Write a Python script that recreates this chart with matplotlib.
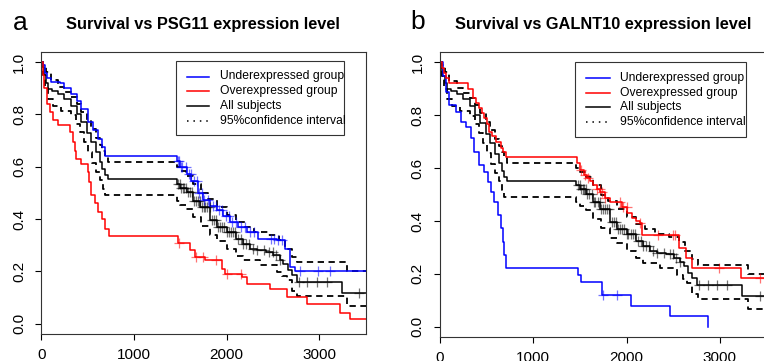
import numpy as np
import matplotlib
matplotlib.use("Agg")
import matplotlib.pyplot as plt
from matplotlib.lines import Line2D
from matplotlib.patches import Rectangle

plt.rcParams['font.family'] = ['Liberation Sans', 'DejaVu Sans']

# ---------------- data ----------------
# All subjects (shared by both panels)
all_t = [0, 10, 25, 50, 72, 120, 180, 250, 324, 380, 432, 490, 540, 590, 630, 660, 684, 720,
         1461, 1500, 1568, 1640, 1712, 1820, 1900, 2000, 2100, 2180, 2250, 2323, 2420, 2503,
         2570, 2611, 2660, 2701, 2755, 3240, 3600]
all_s = [1.0, 0.98, 0.95, 0.92, 0.898, 0.89, 0.879, 0.86, 0.834, 0.80, 0.77, 0.73, 0.694, 0.655,
         0.618, 0.59, 0.567, 0.552,
         0.535, 0.52, 0.503, 0.47, 0.446, 0.395, 0.37, 0.35, 0.325, 0.306, 0.285, 0.28, 0.275,
         0.261, 0.245, 0.229, 0.205, 0.185, 0.159, 0.115, 0.115]
ci_up_t = [0, 20, 54, 100, 180, 250, 324, 380, 432, 490, 540, 590, 630, 660, 684, 720,
           1461, 1500, 1560, 1640, 1720, 1800, 1900, 2000, 2100, 2200, 2300, 2450, 2560, 2630,
           2700, 2760, 3300, 3600]
ci_up_s = [1.0, 0.99, 0.962, 0.93, 0.904, 0.885, 0.866, 0.84, 0.809, 0.775, 0.745, 0.71, 0.682,
           0.66, 0.637, 0.618,
           0.60, 0.585, 0.565, 0.535, 0.50, 0.475, 0.445, 0.415, 0.39, 0.37, 0.35, 0.34, 0.32,
           0.285, 0.255, 0.235, 0.20, 0.20]
ci_lo_t = [0, 20, 40, 72, 126, 216, 324, 370, 414, 460, 504, 550, 594, 630, 666, 690,
           1461, 1500, 1560, 1640, 1720, 1820, 1900, 2000, 2100, 2180, 2359, 2539, 2600, 2647,
           2700, 2760, 3300, 3600]
ci_lo_s = [1.0, 0.95, 0.90, 0.86, 0.834, 0.815, 0.796, 0.765, 0.732, 0.695, 0.656, 0.615, 0.58,
           0.55, 0.516, 0.491,
           0.47, 0.455, 0.44, 0.408, 0.375, 0.337, 0.315, 0.287, 0.26, 0.242, 0.223, 0.197, 0.18,
           0.166, 0.125, 0.105, 0.066, 0.066]
all_cens = [1480, 1495, 1510, 1530, 1545, 1560, 1580, 1600, 1625, 1650, 1665, 1690, 1710, 1730,
            1750, 1770, 1790, 1815, 1840, 1860, 1885, 1905, 1925, 1950, 1975, 2000, 2020, 2045,
            2070, 2095, 2120, 2150, 2180, 2210, 2240, 2280, 2330, 2400, 2460, 2500, 2530, 2570,
            2780, 2870, 2970, 3080, 3430]

# Panel a: PSG11
a_under_t = [0, 18, 40, 60, 108, 198, 240, 324, 380, 430, 504, 560, 612, 650, 684,
             1461, 1500, 1568, 1620, 1690, 1748, 1820, 1892, 1960, 2036, 2120, 2216, 2341,
             2539, 2629, 2683, 2737, 3600]
a_under_s = [1.0, 0.99, 0.96, 0.94, 0.924, 0.92, 0.90, 0.879, 0.85, 0.82, 0.77, 0.74, 0.707,
             0.675, 0.641,
             0.62, 0.60, 0.573, 0.545, 0.50, 0.471, 0.45, 0.433, 0.41, 0.388, 0.37, 0.35, 0.325,
             0.318, 0.285, 0.216, 0.2, 0.2]
a_under_cens = [1470, 1490, 1505, 1520, 1560, 1590, 1610, 1650, 1680, 1700, 1730, 1760, 1800,
                1850, 1880, 1920, 1950, 1990, 2020, 2060, 2100, 2150, 2200, 2250, 2300, 2480,
                2510, 2550, 2600, 2790, 2990, 3110]
a_over_t = [0, 15, 30, 60, 90, 126, 180, 306, 342, 360, 378, 430, 504, 520, 540, 580, 612, 650,
            684, 730, 1478, 1604, 1658, 1766, 1946, 1982, 2162, 2216, 2467, 2647, 2863, 3222,
            3330, 3600]
a_over_s = [1.0, 0.95, 0.90, 0.84, 0.81, 0.777, 0.758, 0.732, 0.694, 0.66, 0.63, 0.61, 0.58,
            0.54, 0.49, 0.46, 0.427, 0.40, 0.363, 0.334, 0.308, 0.28, 0.255, 0.242, 0.21, 0.191,
            0.178, 0.153, 0.134, 0.10, 0.076, 0.04, 0.019, 0.019]
a_over_cens = [1490, 1670, 1740, 1890, 2000, 2150]

# Panel b: GALNT10
b_under_t = [0, 30, 64, 100, 171, 225, 279, 332, 368, 421, 475, 511, 547, 582, 618, 654, 672,
             690, 707, 1482, 1511, 1733, 2047, 2465, 2869]
b_under_s = [1.0, 0.95, 0.889, 0.838, 0.813, 0.775, 0.756, 0.713, 0.662, 0.612, 0.586, 0.548,
             0.511, 0.473, 0.422, 0.372, 0.321, 0.271, 0.221, 0.196, 0.17, 0.12, 0.079, 0.042,
             0.0]
b_under_cens = [1745, 1900]
b_over_t = [0, 20, 40, 64, 100, 279, 300, 350, 390, 421, 450, 475, 500, 528, 560, 600, 654,
            680, 707, 1470, 1500, 1540, 1572, 1610, 1643, 1680, 1715, 1768, 1822, 1947, 2001,
            2054, 2100, 2144, 2162, 2562, 2637, 2698, 3226, 3600]
b_over_s = [1.0, 0.98, 0.96, 0.94, 0.92, 0.92, 0.90, 0.864, 0.845, 0.826, 0.81, 0.788, 0.765,
            0.737, 0.72, 0.70, 0.675, 0.66, 0.643, 0.62, 0.593, 0.575, 0.561, 0.55, 0.536, 0.52,
            0.511, 0.486, 0.47, 0.454, 0.429, 0.41, 0.40, 0.391, 0.348, 0.296, 0.259, 0.223,
            0.185, 0.185]
b_over_cens = [1510, 1550, 1590, 1680, 1710, 1740, 1770, 1930, 1960, 2000, 2144, 2340, 2500,
               2520, 2990, 3430]

titles = ["Survival vs PSG11 expression level", "Survival vs GALNT10 expression level"]
panel_letters = ["a", "b"]
legend_labels = ["Underexpressed group", "Overexpressed group", "All subjects",
                 "95%confidence interval"]
x_ticks = [0, 1000, 2000, 3000]
y_ticks = [0.0, 0.2, 0.4, 0.6, 0.8, 1.0]
y_ticklabels = ["0.0", "0.2", "0.4", "0.6", "0.8", "1.0"]

BLUE = "#0000FF"
RED = "#FF0000"
W, H = 764, 361


def surv_at(t, s, q):
    t = np.asarray(t)
    s = np.asarray(s)
    idx = np.searchsorted(t, q, side='right') - 1
    return s[np.clip(idx, 0, len(s) - 1)]


def fx(px):
    return px / W


def fy(py):
    return 1 - py / H


def draw_legend(fig, box, hx0, hx1, tx, rows):
    x0, y0, x1, y1 = box
    fig.add_artist(Rectangle((fx(x0), fy(y1)), fx(x1) - fx(x0), fy(y0) - fy(y1),
                             transform=fig.transFigure, facecolor='white',
                             edgecolor='#333333', lw=0.8, zorder=5))
    styles = [dict(color=BLUE, ls='-'), dict(color=RED, ls='-'),
              dict(color='black', ls='-'), dict(color='black', ls=(0, (1, 3.2)))]
    for lab, st, ry in zip(legend_labels, styles, rows):
        fig.add_artist(Line2D([fx(hx0), fx(hx1)], [fy(ry), fy(ry)], transform=fig.transFigure,
                              lw=1.1, zorder=6, **st))
        fig.text(fx(tx), fy(ry), lab, ha='left', va='center', fontsize=8.7, zorder=6)


def draw_panel(ax, under, over, under_c, over_c):
    ax.step(ci_up_t, ci_up_s, where='post', color='black', lw=1.3, ls=(0, (3.5, 2.5)))
    ax.step(ci_lo_t, ci_lo_s, where='post', color='black', lw=1.3, ls=(0, (3.5, 2.5)))
    ax.step(all_t, all_s, where='post', color='black', lw=1.1)
    ax.step(under[0], under[1], where='post', color=BLUE, lw=1.1)
    ax.step(over[0], over[1], where='post', color=RED, lw=1.1)
    mk = dict(marker='+', ls='none', ms=6.5, mew=0.9, alpha=0.55)
    ax.plot(all_cens, surv_at(all_t, all_s, all_cens), color='black', **mk)
    ax.plot(under_c, surv_at(under[0], under[1], under_c), color=BLUE, **mk)
    ax.plot(over_c, surv_at(over[0], over[1], over_c), color=RED, **mk)

    ax.set_xlim(0, 3500)
    ax.set_ylim(-0.04, 1.04)
    ax.set_xticks(x_ticks)
    ax.set_xticklabels([str(v) for v in x_ticks])
    ax.set_yticks(y_ticks)
    ax.set_yticklabels(y_ticklabels, rotation=90, va='center')
    ax.tick_params(axis='both', direction='out', length=4, width=0.8, labelsize=11,
                   colors='black')
    ax.tick_params(axis='y', pad=7)
    ax.tick_params(axis='x', pad=6)
    for sp in ax.spines.values():
        sp.set_linewidth(0.8)
        sp.set_color('#333333')


fig = plt.figure(figsize=(7.64, 3.61), dpi=100)
axa = fig.add_axes([41.3 / W, 1 - 334 / H, 324.4 / W, 282.3 / H])
axb = fig.add_axes([440 / W, 1 - 337.3 / H, 326.6 / W, 285.6 / H])

draw_panel(axa, (a_under_t, a_under_s), (a_over_t, a_over_s), a_under_cens, a_over_cens)
draw_panel(axb, (b_under_t, b_under_s), (b_over_t, b_over_s), b_under_cens, b_over_cens)

draw_legend(fig, (175.7, 61, 344.3, 135), 186.7, 209.3, 220,
            [76.5, 91.3, 106.1, 120.9])
draw_legend(fig, (575.3, 62.3, 746.3, 137), 586, 609.7, 620.3,
            [77.7, 92.6, 107.5, 122.4])

fig.text(203 / W, 1 - 24 / H, titles[0], ha='center', va='center', fontsize=11.8,
         fontweight='bold')
fig.text(603.5 / W, 1 - 24 / H, titles[1], ha='center', va='center', fontsize=11.8,
         fontweight='bold')
fig.text(20 / W, 1 - 23 / H, panel_letters[0], ha='center', va='center', fontsize=19)
fig.text(418 / W, 1 - 22 / H, panel_letters[1], ha='center', va='center', fontsize=19)

fig.savefig("out.png", dpi=100)
